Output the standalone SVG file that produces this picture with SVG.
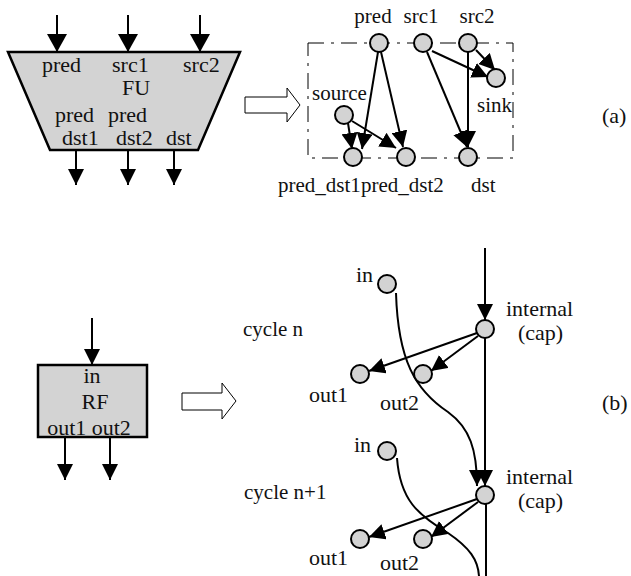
<svg xmlns="http://www.w3.org/2000/svg" width="631" height="576" viewBox="0 0 631 576" font-family="Liberation Serif, Times New Roman, serif">
<style>
text{font-family:"Liberation Serif","Times New Roman",serif;font-size:21px;fill:#111}
.lg{font-size:22px}
.nd{fill:#d3d3d3;stroke:#000;stroke-width:2}
.ln{stroke:#000;stroke-width:2;fill:none}
.ar{marker-end:url(#ah)}
.arb{marker-end:url(#ahb)}
.hol{fill:#fff;stroke:#000;stroke-width:1}
.box{fill:#d3d3d3;stroke:#000;stroke-width:2.5}
.dash{fill:none;stroke:#000;stroke-width:1;stroke-dasharray:16 7 3 7}
</style>
<defs>
<marker id="ah" markerUnits="userSpaceOnUse" viewBox="0 0 16 16" markerWidth="16" markerHeight="16" refX="16" refY="8" orient="auto"><path d="M0,0L16,8L0,16z" fill="#000"/></marker>
<marker id="ahb" markerUnits="userSpaceOnUse" viewBox="0 0 18 20" markerWidth="18" markerHeight="20" refX="18" refY="10" orient="auto"><path d="M0,0L18,10L0,20z" fill="#000"/></marker>
</defs>

<!-- FU block -->
<g id="FU">
<polygon class="box" points="8,52 240,52 198,150 50,150"/>
<text class="lg" x="42" y="72">pred</text>
<text class="lg" x="112" y="72">src1</text>
<text class="lg" x="183" y="72">src2</text>
<text class="lg" x="122" y="95">FU</text>
<text class="lg" x="55" y="122">pred</text>
<text class="lg" x="108" y="122">pred</text>
<text class="lg" x="62" y="145">dst1</text>
<text class="lg" x="116" y="145">dst2</text>
<text class="lg" x="166" y="145">dst</text>
</g>
<g id="fu-arrows">
<line class="ln arb" x1="57" y1="15" x2="57" y2="52"/>
<line class="ln arb" x1="128" y1="15" x2="128" y2="52"/>
<line class="ln arb" x1="200" y1="15" x2="200" y2="52"/>
<line class="ln ar" x1="76" y1="150" x2="76" y2="185"/>
<line class="ln ar" x1="128" y1="150" x2="128" y2="185"/>
<line class="ln ar" x1="174" y1="150" x2="174" y2="185"/>
</g>

<g id="arrow-a"><polygon class="hol" points="245,97 287,97 287,88 300,105 287,122 287,113 245,113"/></g>

<rect class="dash" x="308" y="43" width="205" height="115"/>

<g id="edges-a">
<line class="ln ar" x1="378" y1="52" x2="362" y2="149"/>
<line class="ln ar" x1="381" y1="52" x2="403" y2="147"/>
<line class="ln ar" x1="348" y1="123" x2="352" y2="149"/>
<line class="ln ar" x1="352" y1="121" x2="396" y2="148"/>
<line class="ln ar" x1="432" y1="51" x2="488" y2="77"/>
<line class="ln ar" x1="427" y1="52" x2="467" y2="147"/>
<line class="ln ar" x1="468" y1="52" x2="468" y2="147"/>
<line class="ln ar" x1="476" y1="50" x2="495" y2="70"/>
</g>

<g id="n-pred"><circle class="nd" cx="379" cy="43" r="9"/><text x="373" y="23" text-anchor="middle">pred</text></g>
<g id="n-src1"><circle class="nd" cx="423" cy="43" r="9"/><text x="421" y="23" text-anchor="middle">src1</text></g>
<g id="n-src2"><circle class="nd" cx="468" cy="43" r="9"/><text x="477" y="23" text-anchor="middle">src2</text></g>
<g id="n-sink"><circle class="nd" cx="496" cy="78" r="9"/><text x="477" y="112">sink</text></g>
<g id="n-source"><circle class="nd" cx="344" cy="115" r="9"/><text x="312" y="100">source</text></g>
<g id="n-pred_dst1"><circle class="nd" cx="353" cy="157" r="9"/><text x="278" y="192">pred_dst1</text></g>
<g id="n-pred_dst2"><circle class="nd" cx="406" cy="157" r="9"/><text x="361" y="192">pred_dst2</text></g>
<g id="n-dst"><circle class="nd" cx="468" cy="157" r="9"/><text x="471" y="192">dst</text></g>

<text class="lg" x="602" y="123">(a)</text>

<!-- RF block -->
<g id="RF">
<rect class="box" x="38" y="365" width="109" height="72"/>
<text class="lg" x="92" y="383" text-anchor="middle">in</text>
<text class="lg" x="95" y="409" text-anchor="middle">RF</text>
<text class="lg" x="89" y="435" text-anchor="middle">out1 out2</text>
</g>
<g id="rf-arrows">
<line class="ln ar" x1="92" y1="318" x2="92" y2="365"/>
<line class="ln ar" x1="65" y1="437" x2="65" y2="480"/>
<line class="ln ar" x1="110" y1="437" x2="110" y2="480"/>
</g>

<g id="arrow-b"><polygon class="hol" points="182,393 222,393 222,383 236,401 222,419 222,410 182,410"/></g>

<g id="edges-b">
<line class="ln ar" x1="485" y1="248" x2="485" y2="320"/>
<line class="ln ar" x1="485" y1="338" x2="485" y2="486"/>
<line class="ln" x1="486" y1="504" x2="486" y2="576"/>
<path class="ln ar" d="M396,293 C398,360 415,390 448,412 C470,428 477,450 477,486"/>
<path class="ln" d="M397,458 C400,500 418,515 448,533 C470,548 478,560 479,576"/>
<line class="ln ar" x1="477" y1="333" x2="369" y2="371"/>
<line class="ln ar" x1="478" y1="336" x2="431" y2="371"/>
<line class="ln ar" x1="477" y1="499" x2="369" y2="537"/>
<line class="ln ar" x1="478" y1="502" x2="431" y2="537"/>
</g>

<g id="n-in1"><circle class="nd" cx="387" cy="284" r="9"/><text class="lg" x="373" y="282" text-anchor="end">in</text></g>
<g id="n-internal1"><circle class="nd" cx="485" cy="329" r="9"/><text class="lg" x="506" y="316">internal</text><text class="lg" x="518" y="340">(cap)</text></g>
<g id="n-out1a"><circle class="nd" cx="360" cy="374" r="9"/><text class="lg" x="309" y="402">out1</text></g>
<g id="n-out2a"><circle class="nd" cx="423" cy="374" r="9"/><text class="lg" x="380" y="410">out2</text></g>
<g id="n-in2"><circle class="nd" cx="387" cy="451" r="9"/><text class="lg" x="371" y="452" text-anchor="end">in</text></g>
<g id="n-internal2"><circle class="nd" cx="485" cy="495" r="9"/><text class="lg" x="506" y="484">internal</text><text class="lg" x="518" y="508">(cap)</text></g>
<g id="n-out1b"><circle class="nd" cx="360" cy="539" r="9"/><text class="lg" x="309" y="565">out1</text></g>
<g id="n-out2b"><circle class="nd" cx="423" cy="539" r="9"/><text class="lg" x="380" y="570">out2</text></g>

<text x="243" y="336">cycle n</text>
<text x="244" y="499">cycle n+1</text>
<text class="lg" x="602" y="410">(b)</text>
</svg>
